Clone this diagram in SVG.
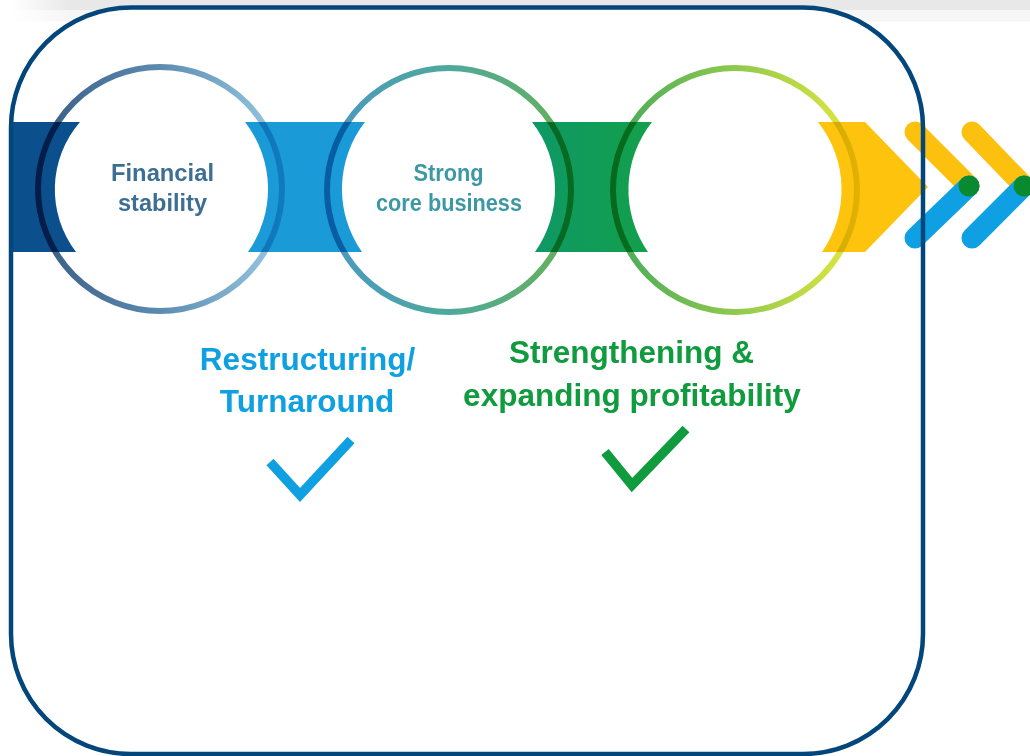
<svg xmlns="http://www.w3.org/2000/svg" width="1030" height="756" viewBox="0 0 1030 756">
  <defs>
    <linearGradient id="stripDark" gradientUnits="userSpaceOnUse" x1="12" y1="0" x2="70" y2="0">
      <stop offset="0" stop-color="#ffffff"/>
      <stop offset="1" stop-color="#e8e8e8"/>
    </linearGradient>
    <linearGradient id="stripLight" gradientUnits="userSpaceOnUse" x1="12" y1="0" x2="70" y2="0">
      <stop offset="0" stop-color="#ffffff"/>
      <stop offset="1" stop-color="#f6f6f6"/>
    </linearGradient>
    <linearGradient id="ring1" gradientUnits="userSpaceOnUse" x1="38" y1="0" x2="282" y2="0">
      <stop offset="0" stop-color="#173f70"/>
      <stop offset="0.5" stop-color="#3f77a3"/>
      <stop offset="1" stop-color="#86c0dd"/>
    </linearGradient>
    <linearGradient id="ring2" gradientUnits="userSpaceOnUse" x1="327" y1="0" x2="571" y2="0">
      <stop offset="0" stop-color="#2a86b8"/>
      <stop offset="0.5" stop-color="#2f9a8a"/>
      <stop offset="1" stop-color="#4ca23a"/>
    </linearGradient>
    <linearGradient id="ring3" gradientUnits="userSpaceOnUse" x1="613" y1="0" x2="857" y2="0">
      <stop offset="0" stop-color="#259c3e"/>
      <stop offset="0.5" stop-color="#7cbf2e"/>
      <stop offset="1" stop-color="#dde41b"/>
    </linearGradient>
    <linearGradient id="greenBand" gradientUnits="userSpaceOnUse" x1="532" y1="0" x2="652" y2="0">
      <stop offset="0" stop-color="#0e9866"/>
      <stop offset="1" stop-color="#13a04a"/>
    </linearGradient>
    <style>
      .ring { fill: none; stroke-width: 6; mix-blend-mode: multiply; stroke-opacity: 0.85; }
      .inner { font-family: "Liberation Sans", Arial, sans-serif; font-weight: bold; font-size: 23.5px; text-anchor: middle; }
      .label { font-family: "Liberation Sans", Arial, sans-serif; font-weight: bold; font-size: 31.5px; text-anchor: middle; }
      .tick { fill: none; stroke-width: 9.5; stroke-linecap: butt; stroke-linejoin: miter; }
      .arm { stroke-width: 21; stroke-linecap: round; }
    </style>
  </defs>

  <!-- header strip -->
  <rect x="0" y="0" width="1030" height="10.5" fill="url(#stripDark)"/>
  <rect x="0" y="10.5" width="1030" height="11" fill="url(#stripLight)"/>

  <!-- panel background -->
  <rect x="11" y="7.5" width="912" height="746.5" rx="120" ry="120" fill="#ffffff"/>

  <!-- band segments between the stages -->
  <g id="bands">
    <path d="M13,122 H80 A103,103 0 0 0 76,252 H13 Z" fill="#0b4f8c"/>
    <path d="M245,122 H365 A109,109 0 0 0 362,252 H248 A109,109 0 0 0 245,122 Z" fill="#1a9bd8"/>
    <path d="M532,122 H652 A109,109 0 0 0 648,252 H535 A109,109 0 0 0 532,122 Z" fill="url(#greenBand)"/>
    <path d="M818,122 H865 L928,187 L865,252 H822 A109,109 0 0 0 818,122 Z" fill="#fec30c"/>
  </g>

  <!-- stage rings -->
  <g id="stage-financial">
    <circle class="ring" cx="160" cy="189" r="122" stroke="url(#ring1)"/>
    <text class="inner" fill="#3d6e93" x="162.5" y="181" textLength="103" lengthAdjust="spacingAndGlyphs">Financial</text>
    <text class="inner" fill="#3d6e93" x="162.5" y="211" textLength="89" lengthAdjust="spacingAndGlyphs">stability</text>
  </g>
  <g id="stage-core">
    <circle class="ring" cx="449" cy="190" r="122" stroke="url(#ring2)"/>
    <text class="inner" fill="#3c98a3" x="448.5" y="181" textLength="70" lengthAdjust="spacingAndGlyphs">Strong</text>
    <text class="inner" fill="#3c98a3" x="449" y="211" textLength="146" lengthAdjust="spacingAndGlyphs">core business</text>
  </g>
  <g id="stage-growth">
    <circle class="ring" cx="735" cy="190" r="122" stroke="url(#ring3)" stroke-opacity="0.7"/>
  </g>

  <!-- forward chevrons -->
  <g id="chevrons">
    <line class="arm" x1="915" y1="132" x2="969" y2="186" stroke="#fcc00f"/>
    <line class="arm" x1="969" y1="186" x2="915" y2="238" stroke="#0ea0e2"/>
    <circle cx="969" cy="186" r="10.5" fill="#0a8a30"/>
    <line class="arm" x1="972" y1="132" x2="1024" y2="186" stroke="#fcc00f"/>
    <line class="arm" x1="1024" y1="186" x2="972" y2="238" stroke="#0ea0e2"/>
    <circle cx="1024" cy="186" r="10.5" fill="#0a8a30"/>
  </g>

  <!-- milestone labels -->
  <g id="milestone-restructuring">
    <text class="label" fill="#0ea0e0" x="307.5" y="370">Restructuring/</text>
    <text class="label" fill="#0ea0e0" x="307" y="412">Turnaround</text>
    <polyline class="tick" stroke="#0ea0e0" points="270,462 300,495 351,440"/>
  </g>
  <g id="milestone-profitability">
    <text class="label" fill="#0f9b3e" x="631.5" y="363">Strengthening &amp;</text>
    <text class="label" fill="#0f9b3e" x="632" y="406">expanding profitability</text>
    <polyline class="tick" stroke="#0f9b3e" points="605,452 632,485 686,429"/>
  </g>

  <!-- panel outline -->
  <rect x="11" y="7.5" width="912" height="746.5" rx="120" ry="120" fill="none" stroke="#02467c" stroke-width="4.5"/>
</svg>
